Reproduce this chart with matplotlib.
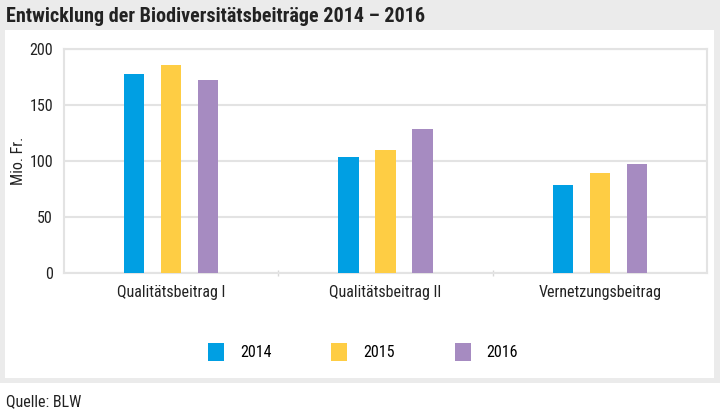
import numpy as np
import matplotlib
matplotlib.use("Agg")
import matplotlib.pyplot as plt
from matplotlib.patches import Rectangle
from matplotlib import font_manager

categories = ["Qualitätsbeitrag I", "Qualitätsbeitrag II", "Vernetzungsbeitrag"]
years = ["2014", "2015", "2016"]
v2014 = [178, 104, 79]
v2015 = [186, 110, 89]
v2016 = [172, 129, 97]
yticks = [0, 50, 100, 150, 200]

colors = ["#009fe3", "#fecd44", "#a68bc1"]

names = {f.name for f in font_manager.fontManager.ttflist}
family = "Roboto"
for cand in ["Liberation Sans Narrow", "Roboto Condensed", "Open Sans Condensed", "Roboto"]:
    if cand in names:
        family = cand
        break
plt.rcParams["font.family"] = [family, "DejaVu Sans"]

W, H = 720, 417
fig = plt.figure(figsize=(W / 100, H / 100), dpi=100)
fig.patch.set_facecolor("white")

# gray frame and white panel
fig.patches.append(Rectangle((0, 1 - 383 / H), 1, 383 / H, transform=fig.transFigure,
                             facecolor="#ebebeb", edgecolor="none", zorder=-10))
fig.patches.append(Rectangle((5 / W, 1 - 378 / H), 709 / W, 348 / H, transform=fig.transFigure,
                             facecolor="white", edgecolor="none", zorder=-9))

fig.text(6 / W, 1 - 16 / H, "Entwicklung der Biodiversitätsbeiträge 2014 – 2016",
         fontsize=14.5, fontweight="bold", color="#222222", va="center", ha="left")
fig.text(6 / W, 1 - 402 / H, "Quelle: BLW", fontsize=11.5, color="#222222", va="center", ha="left")

ax = fig.add_axes([64 / W, 1 - 273 / H, (707 - 64) / W, (273 - 49) / H])
x = np.arange(len(categories))
w = 0.095
off = 0.172
series = [v2014, v2015, v2016]
for i, vals in enumerate(series):
    ax.bar(x + (i - 1) * off, vals, width=w, color=colors[i], label=years[i], zorder=3)

ax.set_xlim(-0.5, len(categories) - 0.5)
ax.set_ylim(0, 200)
ax.set_yticks(yticks)
ax.yaxis.grid(True, color="#e3e3e3", linewidth=1.5, zorder=0)
for s in ax.spines.values():
    s.set_color("#e3e3e3")
    s.set_linewidth(1.5)
ax.tick_params(axis="y", length=0, labelsize=11.5, pad=8, colors="#222222")
ax.set_xticks(x)
ax.set_xticklabels(categories, fontsize=11.5, color="#222222")
ax.tick_params(axis="x", length=0, pad=9)
ax.set_xticks([0.5, 1.5], minor=True)
ax.tick_params(axis="x", which="minor", length=5, color="#d8d8d8", width=1, direction="inout")
ax.set_ylabel("Mio. Fr.", fontsize=11.5, color="#222222", labelpad=2)

fig.legend(loc="center", bbox_to_anchor=(363 / W, 1 - 352 / H), ncol=3, frameon=False,
           fontsize=11.5, handlelength=1.0, handleheight=1.4, columnspacing=3.75, handletextpad=1.0)

fig.savefig("out.png", dpi=100)
